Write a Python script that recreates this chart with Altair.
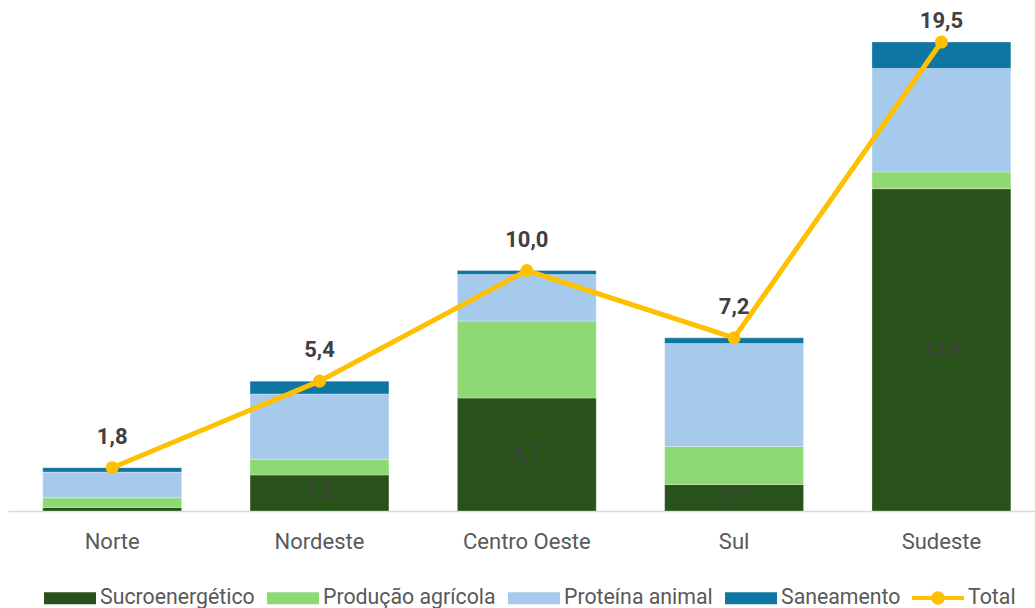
import altair as alt
import pandas as pd

# Regions and series (values in R$ bilhões)
regioes = ["Norte", "Nordeste", "Centro Oeste", "Sul", "Sudeste"]
series = ["Sucroenergético", "Produção agrícola", "Proteína animal", "Saneamento"]
sucroenergetico = [0.15, 1.5, 4.7, 1.1, 13.4]
producao_agricola = [0.4, 0.65, 3.2, 1.58, 0.7]
proteina_animal = [1.07, 2.72, 1.93, 4.28, 4.3]
saneamento = [0.18, 0.53, 0.17, 0.24, 1.1]
total = [1.8, 5.4, 10.0, 7.2, 19.5]

cores = ["#285219", "#8ED973", "#A6CAEC", "#0E76A0"]
cor_total = "#FFC000"
fonte = "Roboto"

# Legend symbols: wide rectangle for the bars, line with dot for the total
SIMBOLO_BARRA = "M-1,-0.23 L1,-0.23 L1,0.23 L-1,0.23 Z"
SIMBOLO_TOTAL = (
    "M-1,-0.08 L1,-0.08 L1,0.08 L-1,0.08 Z "
    "M-0.26,0 A0.26,0.26 0 1,1 0.26,0 A0.26,0.26 0 1,1 -0.26,0 Z"
)

linhas = []
for ordem, (nome, valores) in enumerate(
    zip(series, [sucroenergetico, producao_agricola, proteina_animal, saneamento])
):
    for regiao, valor in zip(regioes, valores):
        linhas.append({"regiao": regiao, "serie": nome, "ordem": ordem, "valor": valor})
barras_df = pd.DataFrame(linhas)
total_df = pd.DataFrame({"regiao": regioes, "total": total, "serie": ["Total"] * len(regioes)})

eixo_x = alt.X(
    "regiao:N",
    sort=regioes,
    scale=alt.Scale(paddingInner=0.33, paddingOuter=0.142, align=0.59),
    axis=alt.Axis(
        title=None,
        labelAngle=0,
        labelFont=fonte,
        labelFontSize=22,
        labelColor="#595959",
        labelPadding=20,
        ticks=False,
        domainColor="#D9D9D9",
        domainWidth=1.5,
        grid=False,
    ),
)
escala_y = alt.Scale(domain=[0, 20], nice=False, zero=True)

legenda_comum = dict(
    title=None,
    orient="none",
    legendY=542,
    symbolSize=2704,
    symbolStrokeWidth=0,
    labelFont=fonte,
    labelFontSize=21.3,
    labelColor="#595959",
    labelOffset=4,
    labelLimit=400,
)

barras = alt.Chart(barras_df).mark_bar(
    stroke="#ffffff", strokeWidth=0.6, strokeOpacity=0.5
).encode(
    x=eixo_x,
    y=alt.Y("sum(valor):Q", stack="zero", scale=escala_y, axis=None),
    order=alt.Order("ordem:Q", sort="ascending"),
    color=alt.Color(
        "serie:N",
        scale=alt.Scale(domain=series, range=cores),
        legend=alt.Legend(
            legendX=36,
            direction="horizontal",
            columns=4,
            symbolType=SIMBOLO_BARRA,
            columnPadding=12,
            **legenda_comum,
        ),
    ),
)

rotulos_barras = alt.Chart(barras_df).transform_filter(
    "datum.ordem == 0 && datum.valor >= 1"
).transform_calculate(
    meio="datum.valor / 2",
    texto="replace(format(datum.valor, '.1f'), '.', ',')",
).mark_text(
    font=fonte, fontSize=21, color="#404040", baseline="middle"
).encode(
    x=eixo_x,
    y=alt.Y("meio:Q", scale=escala_y, axis=None),
    text="texto:N",
)

linha = alt.Chart(total_df).mark_line(color=cor_total, strokeWidth=5).encode(
    x=eixo_x,
    y=alt.Y("total:Q", scale=escala_y, axis=None),
)

pontos = alt.Chart(total_df).mark_circle(color=cor_total, size=170, opacity=1).encode(
    x=eixo_x,
    y=alt.Y("total:Q", scale=escala_y, axis=None),
    opacity=alt.Opacity(
        "serie:O",
        scale=alt.Scale(domain=["Total"], range=[1]),
        legend=alt.Legend(
            legendX=904,
            symbolType=SIMBOLO_TOTAL,
            **legenda_comum,
        ),
    ),
)

texto_total = "replace(format(datum.total, '.1f'), '.', ',')"
estilo_total = dict(
    font=fonte, fontSize=22, fontWeight="bold", color="#404040", baseline="alphabetic"
)

# Total labels above each point; the tallest one sits closer to its point
rotulos_total = alt.Chart(total_df).transform_filter(
    "datum.total < 19"
).transform_calculate(texto=texto_total).mark_text(dy=-24, **estilo_total).encode(
    x=eixo_x,
    y=alt.Y("total:Q", scale=escala_y, axis=None),
    text="texto:N",
)
rotulo_maximo = alt.Chart(total_df).transform_filter(
    "datum.total >= 19"
).transform_calculate(texto=texto_total).mark_text(dy=-14, **estilo_total).encode(
    x=eixo_x,
    y=alt.Y("total:Q", scale=escala_y, axis=None),
    text="texto:N",
)

chart = alt.layer(
    barras, rotulos_barras, linha, pontos, rotulos_total, rotulo_maximo
).properties(
    width=1027,
    height=481,
    background="#ffffff",
    autosize=alt.AutoSizeParams(type="none"),
    padding={"left": 8, "top": 30, "right": 0, "bottom": 97},
).configure_view(stroke=None)

chart.save("out.html", embed_options={"renderer": "svg", "actions": False})
